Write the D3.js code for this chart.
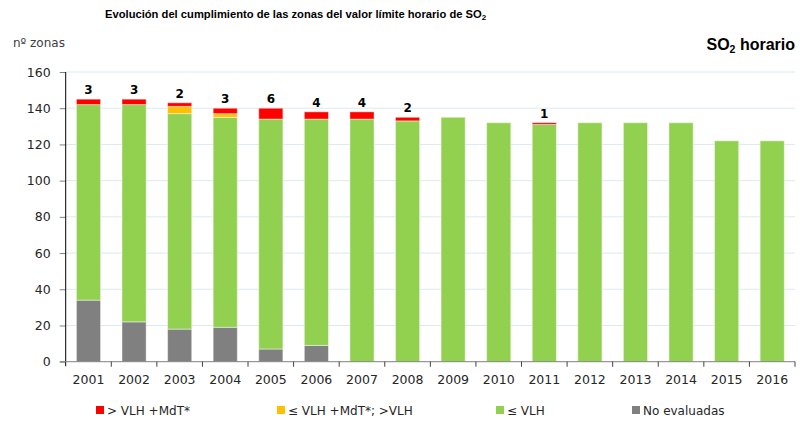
<!DOCTYPE html>
<html><head><meta charset="utf-8">
<script src="https://cdn.jsdelivr.net/npm/d3@7"></script>
<style>body{margin:0;background:#fff}svg{display:block}</style>
</head><body>
<svg id="c" width="802" height="424"></svg>
<script>
const years = ["2001","2002","2003","2004","2005","2006","2007","2008","2009","2010","2011","2012","2013","2014","2015","2016"];
const noEvaluadas = [34,22,18,19,7,9,0,0,0,0,0,0,0,0,0,0];
const leVLH =       [108,120,119,116,127,125,134,133,135,132,131,132,132,132,122,122];
const leVLHMdT =    [0,0,4,2,0,0,0,0,0,0,0,0,0,0,0,0];
const gtVLHMdT =    [3,3,2,3,6,4,4,2,0,0,1,0,0,0,0,0];
const yTicks = [0,20,40,60,80,100,120,140,160];
const seriesNames = ["No evaluadas","≤ VLH","≤ VLH +MdT*; >VLH","> VLH +MdT*"];
const seriesColors = ["#808080","#92d050","#ffc000","#ff0000"];
const legendOrder = ["> VLH +MdT*","≤ VLH +MdT*; >VLH","≤ VLH","No evaluadas"];

const svg = d3.select("#c");
const m = {l:65.7, r:795, t:72, b:361.7};
const x = d3.scaleBand().domain(years).range([m.l, m.r]).paddingInner(0.47).paddingOuter(0.235);
const y = d3.scaleLinear().domain([0,160]).range([m.b, m.t]);
const font = "DejaVu Sans, Verdana, sans-serif";
const narrow = "Liberation Sans Narrow, Arial Narrow, sans-serif";

// gridlines
svg.append("g").selectAll("line").data(yTicks.filter(d=>d>0)).join("line")
  .attr("x1", m.l).attr("x2", m.r).attr("y1", d=>y(d)).attr("y2", d=>y(d))
  .attr("stroke", "#dce9f0").attr("stroke-width", 1);

// stacked data
const rows = years.map((yr,i)=>({year:yr, "No evaluadas":noEvaluadas[i], "≤ VLH":leVLH[i], "≤ VLH +MdT*; >VLH":leVLHMdT[i], "> VLH +MdT*":gtVLHMdT[i]}));
const stack = d3.stack().keys(seriesNames)(rows);
const color = d3.scaleOrdinal().domain(seriesNames).range(seriesColors);

svg.append("g").selectAll("g").data(stack).join("g")
  .attr("fill", d=>color(d.key))
  .selectAll("rect").data(d=>d.filter(p=>p[1]-p[0]>0)).join("rect")
  .attr("x", d=>x(d.data.year)).attr("width", x.bandwidth())
  .attr("y", d=>y(d[1])).attr("height", d=>y(d[0])-y(d[1]))
  .attr("stroke","rgba(255,255,255,0.45)").attr("stroke-width",1);

// count labels
svg.append("g").selectAll("text").data(rows.filter(r=>r["> VLH +MdT*"]>0)).join("text")
  .attr("x", d=>x(d.year)+x.bandwidth()/2)
  .attr("y", d=>y(d["No evaluadas"]+d["≤ VLH"]+d["≤ VLH +MdT*; >VLH"]+d["> VLH +MdT*"])-5)
  .attr("text-anchor","middle").attr("font-family",font).attr("font-weight","bold")
  .attr("font-size","12px").attr("fill","#000").text(d=>d["> VLH +MdT*"]);

// y axis
const ya = svg.append("g").attr("transform",`translate(${m.l},0)`)
  .call(d3.axisLeft(y).tickValues(yTicks).tickSize(6).tickPadding(9).tickSizeOuter(0));
ya.select(".domain").remove();
ya.append("line").attr("x1",0).attr("x2",0).attr("y1",m.t).attr("y2",m.b+4.5).attr("stroke","#000");
ya.selectAll(".tick line").attr("stroke","#808080");
ya.selectAll("text").attr("font-family",font).attr("font-size","12.5px").attr("fill","#262626");

// x axis
const xa = svg.append("g").attr("transform",`translate(0,${m.b})`)
  .call(d3.axisBottom(x).tickSize(0).tickPadding(13));
xa.select(".domain").remove();
xa.append("line").attr("x1",m.l-6).attr("x2",m.r).attr("y1",0).attr("y2",0).attr("stroke","#808080");
const bounds = years.map(yr=>x(yr)-x.step()*x.paddingInner()/2).concat([m.r]);
xa.selectAll(".bt").data(bounds.slice(1)).join("line").attr("class","bt")
  .attr("x1",d=>d).attr("x2",d=>d).attr("y1",0).attr("y2",5).attr("stroke","#404040");
xa.selectAll(".tick text").attr("font-family",font).attr("font-size","12.5px").attr("fill","#262626");

// titles
svg.append("text").attr("x",105).attr("y",18).attr("font-family",narrow)
  .attr("font-weight","bold").attr("font-size","11.2px").attr("fill","#000")
  .html('Evolución del cumplimiento de las zonas del valor límite horario de SO<tspan font-size="8px" dy="2">2</tspan>');
svg.append("text").attr("x",13).attr("y",47).attr("font-family",font).attr("font-size","12px").attr("fill","#404040").text("nº zonas");
svg.append("text").attr("x",795).attr("y",50).attr("text-anchor","end").attr("font-family",narrow)
  .attr("font-weight","bold").attr("font-size","16px").attr("fill","#000")
  .html('SO<tspan font-size="10.5px" dy="3">2</tspan><tspan dy="-3"> horario</tspan>');

// legend
const legX = [96,277,496,632];
const lg = svg.append("g").selectAll("g").data(legendOrder).join("g")
  .attr("transform",(d,i)=>`translate(${legX[i]},406)`);
lg.append("rect").attr("width",8).attr("height",8).attr("fill",d=>color(d));
lg.append("text").attr("x",11).attr("y",8.5).attr("font-family",font).attr("font-size","12px").attr("fill","#262626").text(d=>d);
</script>
</body></html>
